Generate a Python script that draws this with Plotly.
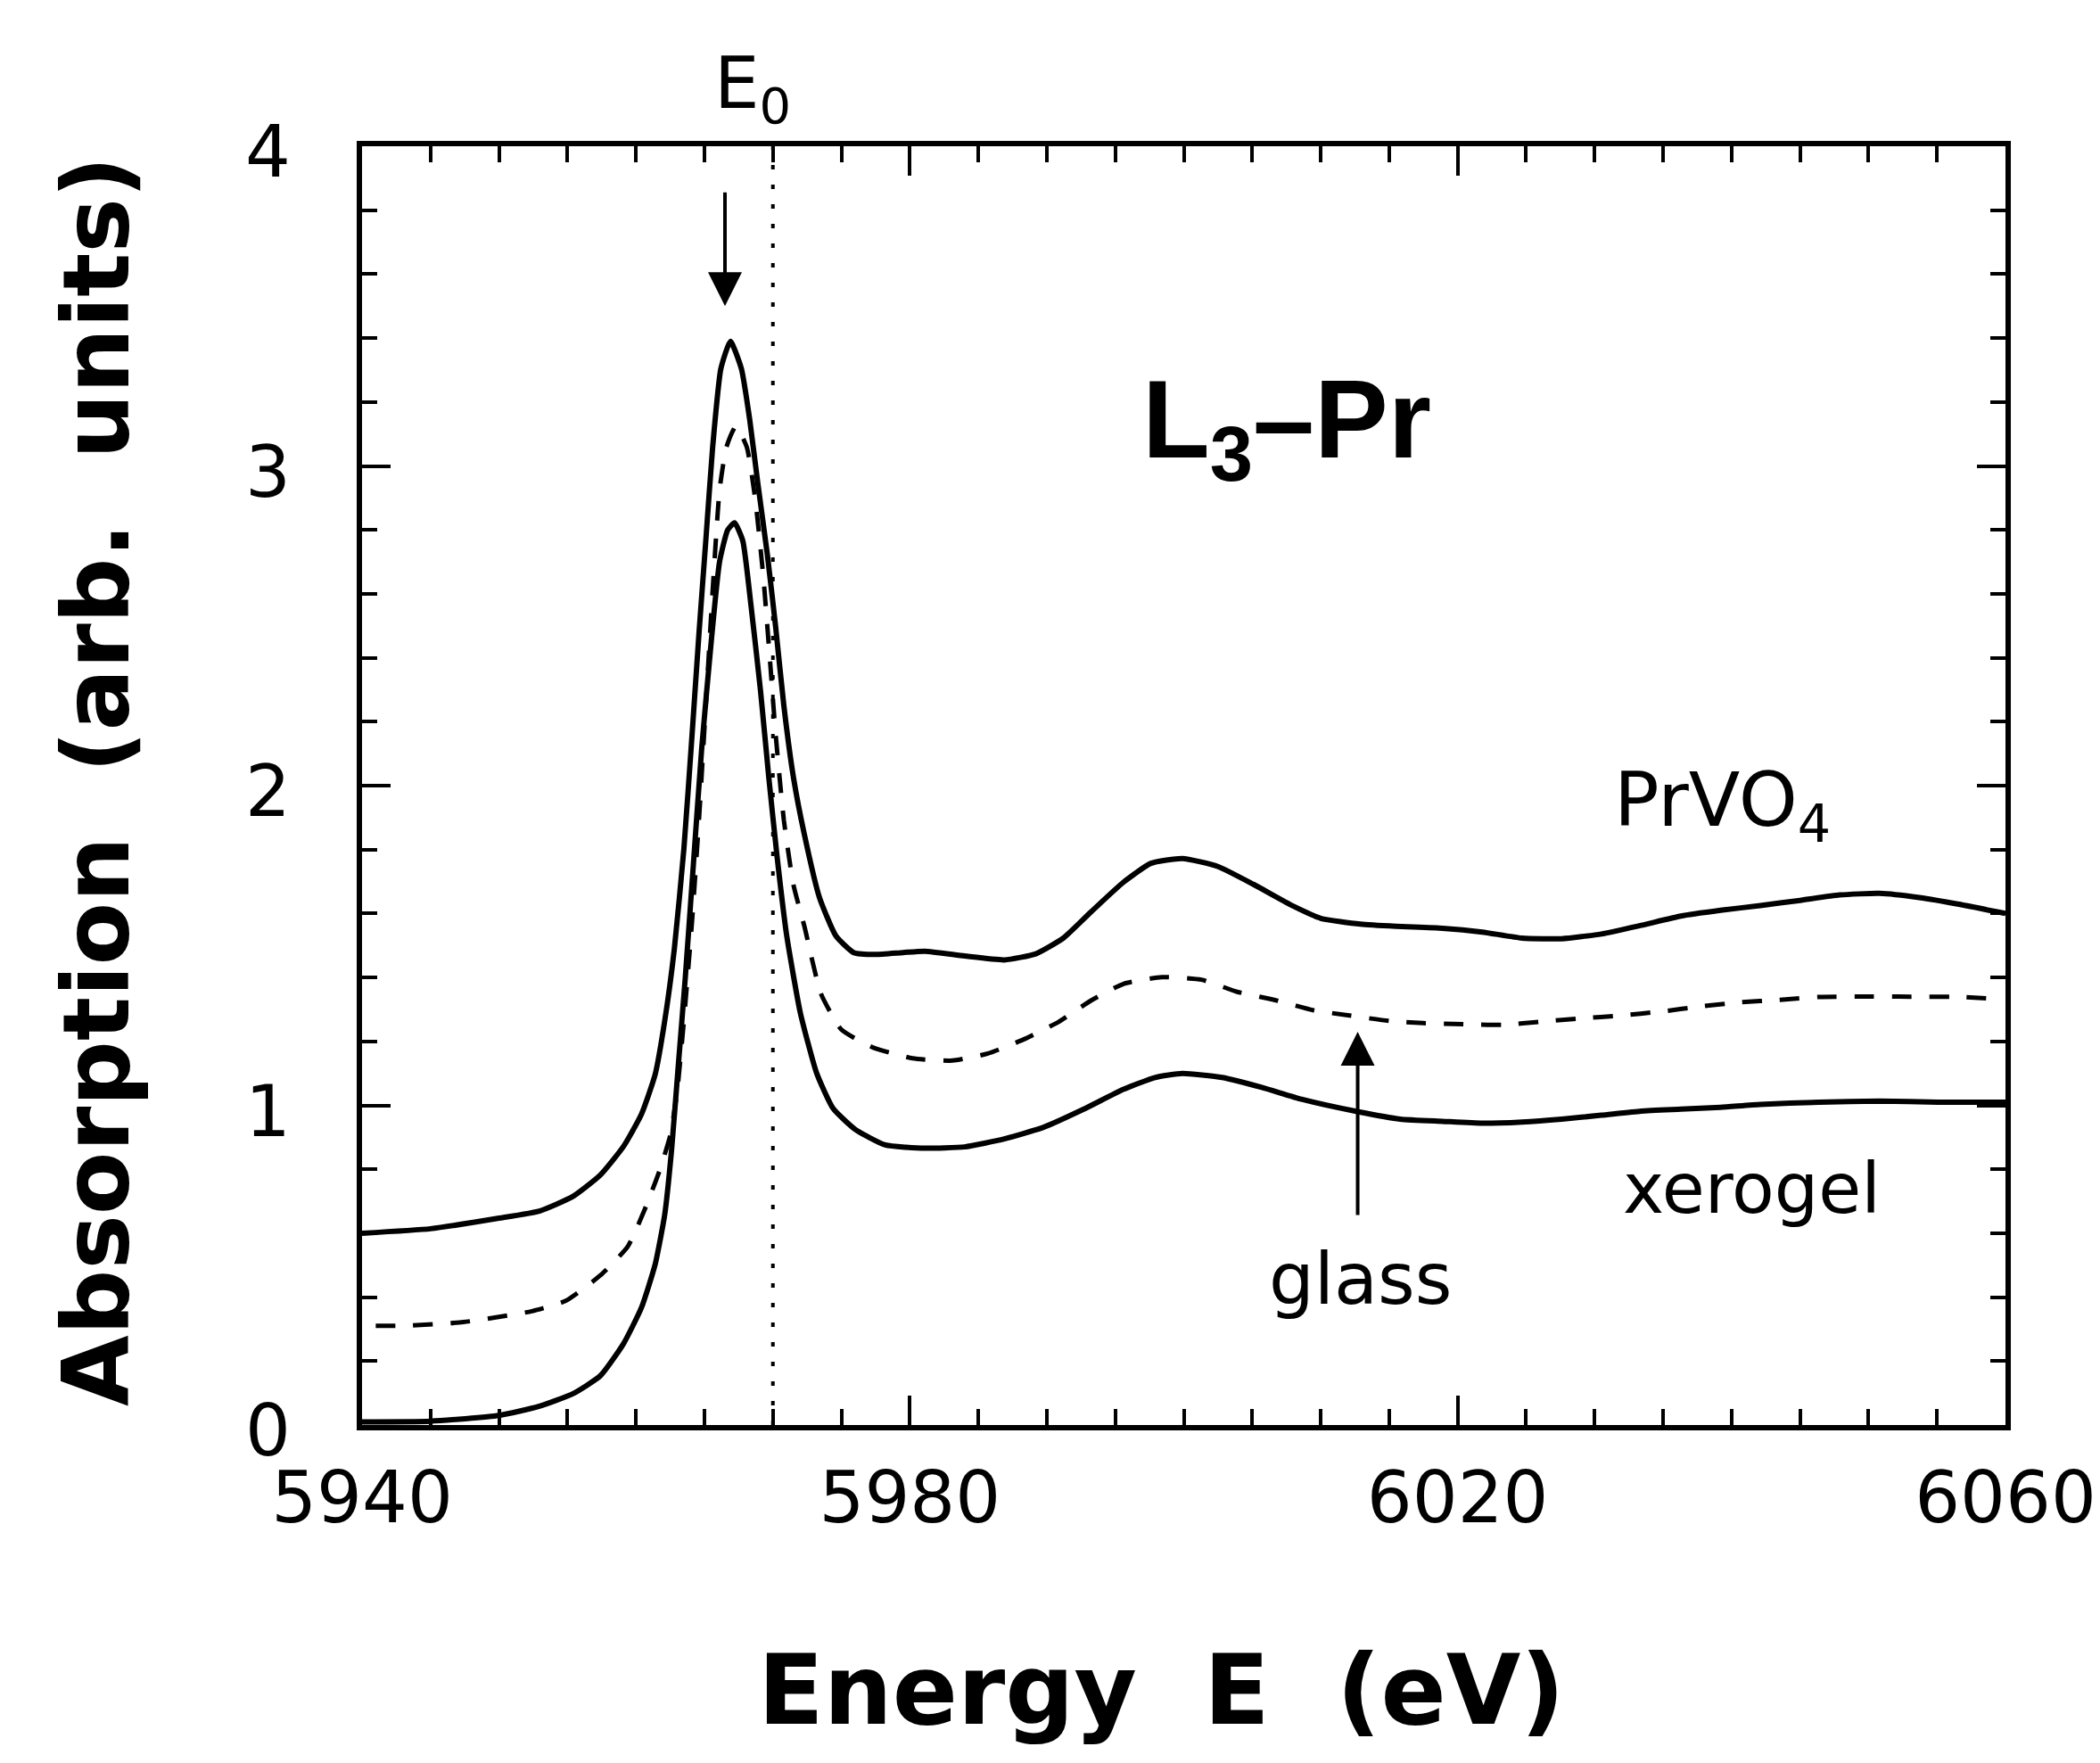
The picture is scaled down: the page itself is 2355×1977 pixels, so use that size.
import plotly.graph_objects as go

# ---------------- data ----------------
prvo4_E = [5940.0, 5945.0, 5950.0, 5953.0, 5955.4, 5957.4, 5959.1, 5960.4, 5961.4, 5962.1,
           5962.8, 5963.5, 5964.1, 5964.6, 5965.1, 5965.6, 5966.2, 5966.9, 5967.7, 5968.3,
           5968.9, 5969.6, 5970.2, 5970.8, 5971.5, 5972.3, 5973.4, 5974.6, 5975.9, 5977.5,
           5979.5, 5981.1, 5984.0, 5986.9, 5989.2, 5991.2, 5993.2, 5995.6, 5997.6, 5999.9,
           6002.5, 6005.1, 6008.0, 6010.0, 6012.9, 6015.5, 6018.9, 6021.8, 6024.7, 6027.6,
           6030.5, 6033.4, 6036.3, 6039.2, 6042.1, 6045.0, 6047.9, 6050.8, 6053.7, 6056.6,
           6060.0]
prvo4_A = [0.600, 0.614, 0.647, 0.670, 0.715, 0.782, 0.872, 0.972, 1.096, 1.264,
           1.488, 1.802, 2.161, 2.475, 2.766, 3.058, 3.304, 3.390, 3.304, 3.147,
           2.945, 2.721, 2.497, 2.250, 2.026, 1.847, 1.650, 1.530, 1.478, 1.472,
           1.478, 1.482, 1.467, 1.455, 1.474, 1.523, 1.604, 1.698, 1.757, 1.772,
           1.747, 1.691, 1.623, 1.585, 1.567, 1.560, 1.554, 1.542, 1.523, 1.521,
           1.536, 1.563, 1.592, 1.610, 1.625, 1.641, 1.658, 1.663, 1.650, 1.629,
           1.600]

glass_E = [5941.0, 5943.2, 5947.4, 5952.4, 5954.9, 5957.4, 5959.4, 5960.6, 5961.7, 5962.5,
           5963.0, 5963.5, 5964.1, 5964.6, 5965.1, 5965.6, 5966.1, 5966.6, 5967.3, 5968.1,
           5968.7, 5969.3, 5969.8, 5970.2, 5970.8, 5971.5, 5972.3, 5973.5, 5975.0, 5977.3,
           5980.2, 5983.1, 5985.7, 5988.3, 5990.9, 5993.2, 5995.6, 5998.4, 6001.3, 6003.9,
           6006.6, 6009.5, 6012.1, 6015.0, 6017.5, 6020.4, 6023.3, 6026.2, 6029.0, 6031.9,
           6034.8, 6037.7, 6040.6, 6043.5, 6046.4, 6049.3, 6052.2, 6056.6, 6059.2]
glass_A = [0.310, 0.311, 0.322, 0.356, 0.389, 0.468, 0.558, 0.670, 0.793, 0.905,
           1.040, 1.264, 1.578, 1.892, 2.250, 2.609, 2.923, 3.058, 3.125, 3.058,
           2.900, 2.654, 2.385, 2.161, 1.892, 1.690, 1.560, 1.350, 1.237, 1.181,
           1.147, 1.140, 1.162, 1.206, 1.262, 1.327, 1.380, 1.401, 1.393, 1.355,
           1.330, 1.297, 1.281, 1.264, 1.257, 1.254, 1.252, 1.262, 1.272, 1.281,
           1.293, 1.309, 1.322, 1.330, 1.339, 1.340, 1.340, 1.339, 1.333]

xerogel_E = [5940.0, 5945.0, 5950.0, 5952.9, 5955.4, 5957.4, 5959.1, 5960.4, 5961.4, 5962.1,
             5962.6, 5963.1, 5963.6, 5964.2, 5964.8, 5965.5, 5966.1, 5966.7, 5967.2, 5967.8,
             5968.4, 5969.1, 5969.7, 5970.3, 5971.0, 5972.0, 5973.2, 5974.4, 5976.0, 5978.2,
             5981.1, 5984.0, 5986.9, 5989.8, 5992.7, 5995.6, 5997.9, 5999.9, 6002.8, 6005.7,
             6008.6, 6012.6, 6015.8, 6018.9, 6021.8, 6024.7, 6027.6, 6030.5, 6033.4, 6036.3,
             6039.2, 6042.1, 6046.4, 6050.8, 6055.1, 6060.0]
xerogel_A = [0.010, 0.012, 0.030, 0.058, 0.098, 0.154, 0.255, 0.367, 0.502, 0.658,
             0.860, 1.129, 1.398, 1.757, 2.116, 2.452, 2.699, 2.800, 2.822, 2.766,
             2.564, 2.295, 2.026, 1.780, 1.533, 1.290, 1.100, 0.990, 0.925, 0.876,
             0.866, 0.870, 0.895, 0.932, 0.988, 1.050, 1.087, 1.100, 1.087, 1.056,
             1.019, 0.981, 0.957, 0.950, 0.944, 0.948, 0.957, 0.969, 0.982, 0.988,
             0.994, 1.003, 1.010, 1.013, 1.010, 1.010]

x_ticks = [5940, 5980, 6020, 6060]
y_ticks = [0, 1, 2, 3, 4]
E0 = 5970

# ---------------- figure ----------------
fig = go.Figure()
common = dict(mode="lines", hoverinfo="skip", showlegend=False)
fig.add_trace(go.Scatter(x=prvo4_E, y=prvo4_A, line=dict(color="black", width=6, shape="spline", smoothing=0.5), **common))
fig.add_trace(go.Scatter(x=glass_E, y=glass_A, line=dict(color="black", width=5, dash="22px,20px", shape="spline", smoothing=0.5), **common))
fig.add_trace(go.Scatter(x=xerogel_E, y=xerogel_A, line=dict(color="black", width=6, shape="spline", smoothing=0.5), **common))

# E0 dotted line
fig.add_shape(type="line", xref="x", yref="y", x0=E0, x1=E0, y0=0, y1=4,
              line=dict(color="black", width=4, dash="5px,17px"))

tickfont = dict(family="DejaVu Sans", size=80, color="black")
fig.update_xaxes(range=[5940, 6060], tickmode="array", tickvals=x_ticks, ticktext=[str(v) for v in x_ticks],
                 ticks="inside", ticklen=33, tickwidth=4, tickcolor="black",
                 minor=dict(dtick=5, tick0=5940, ticks="inside", ticklen=18, tickwidth=4, tickcolor="black"),
                 showline=True, linewidth=6, linecolor="black", mirror="ticks",
                 showgrid=False, zeroline=False, tickfont=tickfont, ticklabelstandoff=7)
fig.update_yaxes(range=[0, 4], tickmode="array", tickvals=y_ticks, ticktext=[str(v) for v in y_ticks],
                 ticks="inside", ticklen=32, tickwidth=4, tickcolor="black",
                 minor=dict(dtick=0.2, tick0=0, ticks="inside", ticklen=17, tickwidth=4, tickcolor="black"),
                 showline=True, linewidth=6, linecolor="black", mirror="ticks",
                 showgrid=False, zeroline=False, tickfont=tickfont, ticklabelstandoff=58,
                 ticklabelshift=6)

ann = []
# axis titles
ann.append(dict(text="<b>Energy  E  (eV)</b>", xref="paper", yref="paper", x=0.4867, y=-0.2078,
                xanchor="center", yanchor="middle", showarrow=False,
                font=dict(family="DejaVu Sans", size=108, color="black")))
ann.append(dict(text="<b>Absorption  (arb.  units)</b>", xref="paper", yref="paper", x=-0.1617, y=0.5035,
                xanchor="center", yanchor="middle", showarrow=False, textangle=-90,
                font=dict(family="DejaVu Sans", size=103, color="black")))
# labels
ann.append(dict(text="E<sub>0</sub>", xref="x", yref="paper", x=5968.5, y=1.045,
                xanchor="center", yanchor="middle", showarrow=False,
                font=dict(family="DejaVu Sans", size=80, color="black")))
ann.append(dict(text="<b>L<sub>3</sub>–Pr</b>", xref="x", yref="y", x=6007.5, y=3.12,
                xanchor="center", yanchor="middle", showarrow=False,
                font=dict(family="Liberation Sans", size=124, color="black")))
ann.append(dict(text="PrVO<sub>4</sub>", xref="x", yref="y", x=6039.3, y=1.94,
                xanchor="center", yanchor="middle", showarrow=False,
                font=dict(family="DejaVu Sans", size=84, color="black")))
ann.append(dict(text="xerogel", xref="x", yref="y", x=6041.5, y=0.74,
                xanchor="center", yanchor="middle", showarrow=False,
                font=dict(family="DejaVu Sans", size=78, color="black")))
ann.append(dict(text="glass", xref="x", yref="y", x=6012.9, y=0.455,
                xanchor="center", yanchor="middle", showarrow=False,
                font=dict(family="DejaVu Sans", size=80, color="black")))
# arrows
ann.append(dict(text="", xref="x", yref="y", x=5966.5, y=3.50, axref="x", ayref="y", ax=5966.5, ay=3.86,
                showarrow=True, arrowhead=2, arrowsize=1.9, arrowwidth=4, arrowcolor="black", standoff=0))
ann.append(dict(text="", xref="x", yref="y", x=6012.7, y=1.23, axref="x", ayref="y", ax=6012.7, ay=0.653,
                showarrow=True, arrowhead=2, arrowsize=1.9, arrowwidth=4, arrowcolor="black", standoff=0))

fig.update_layout(width=2355, height=1977, autosize=False,
                  margin=dict(l=398, r=106, t=156, b=387, pad=0),
                  paper_bgcolor="white", plot_bgcolor="white",
                  annotations=ann)

fig.write_html("out.html")
